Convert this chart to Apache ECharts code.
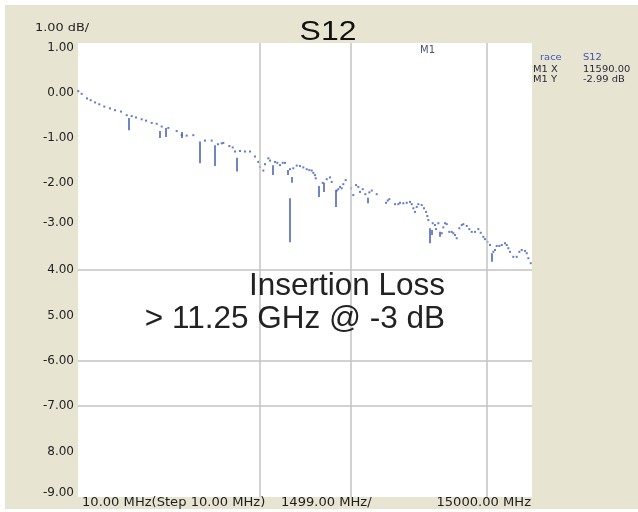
<!DOCTYPE html>
<html><head><meta charset="utf-8">
<script src="https://cdn.jsdelivr.net/npm/echarts@6/dist/echarts.min.js"></script>
<style>html,body{margin:0;padding:0;background:#fff}#c{width:638px;height:512px}</style>
</head><body><div id="c"></div>
<script>
// S12 insertion-loss trace (MHz, dB)
const freqMHz = [20,132,307,429,571,713,878,1067,1232,1430,
1618,1783,1925,2113,2255,2444,2609,2774,2992,3269,
3434,3599,3817,4203,4425,4633,4755,4808,5006,5118,
5194,5359,5524,5689,5854,5963,6020,6129,6185,6294,
6350,6515,6591,6680,6769,6845,7010,7119,7232,7340,
7450,7562,7648,7727,7780,7836,7859,8090,8222,8331,
8387,8552,8605,8661,8717,8770,8849,9024,9100,9190,
9265,9321,9411,9497,9629,9708,9873,10180,10236,10289,
10477,10586,10642,10751,10864,10973,11029,11082,11138,11194,
11247,11359,11435,11501,11544,11577,11722,11798,11831,11907,
12019,12072,12128,12184,12270,12350,12402,12458,12514,12600,
12680,12733,12845,12931,13010,13119,13228,13307,13393,13449,
13525,13614,13723,13779,13835,13921,14000,14109,14165,14218,
14274,14383,14496,14582,14661,14770,14826,14879,14958];
const lossDb = [-0.06,-0.12,-0.22,-0.26,-0.31,-0.35,-0.40,-0.44,-0.48,-0.51,
-0.59,-0.61,-0.64,-0.68,-0.71,-0.76,-0.78,-0.84,-0.87,-0.94,
-1.03,-1.04,-1.03,-1.15,-1.15,-1.23,-1.21,-1.20,-1.27,-1.30,
-1.39,-1.38,-1.39,-1.39,-1.50,-1.62,-1.73,-1.81,-1.67,-1.54,
-1.59,-1.62,-1.64,-1.69,-1.64,-1.64,-1.78,-1.76,-1.70,-1.71,
-1.74,-1.78,-1.80,-1.81,-1.86,-1.91,-1.98,-2.08,-2.00,-1.96,
-2.06,-2.25,-2.22,-2.17,-2.20,-2.11,-2.02,-2.20,-2.35,-2.13,
-2.17,-2.28,-2.22,-2.33,-2.29,-2.25,-2.33,-2.52,-2.47,-2.44,
-2.55,-2.55,-2.52,-2.53,-2.52,-2.50,-2.55,-2.64,-2.72,-2.61,
-2.55,-2.57,-2.64,-2.72,-2.81,-2.90,-2.97,-3.01,-3.10,-2.97,
-3.19,-3.06,-2.97,-2.99,-3.16,-3.16,-3.19,-3.23,-3.30,-3.08,
-3.01,-2.99,-3.03,-3.10,-3.16,-3.16,-3.10,-3.18,-3.27,-3.32,
-3.38,-3.45,-3.60,-3.56,-3.47,-3.47,-3.45,-3.41,-3.45,-3.52,
-3.60,-3.71,-3.71,-3.60,-3.56,-3.58,-3.63,-3.74,-3.85];
// resonance dips (vertical spikes)
const spikeFreq   = [1694,2718,2916,3444,4038,4534,5244,6439,6934,7010,7076,7945,8133,8513,9563,11633,11689,11963,13670];
const spikeTop    = [-0.65,-0.94,-0.87,-0.96,-1.17,-1.25,-1.53,-1.69,-1.80,-2.42,-1.95,-2.15,-2.08,-2.24,-2.41,-3.08,-3.12,-3.16,-3.63];
const spikeBottom = [-0.92,-1.09,-1.07,-1.09,-1.65,-1.71,-1.83,-1.91,-1.91,-3.39,-2.08,-2.39,-2.28,-2.61,-2.53,-3.41,-3.23,-3.27,-3.82];
// axes
const yTickValues = [1,0,-1,-2,-3,-4,-5,-6,-7,-8,-9];
const yTickLabels = ['1.00','0.00','-1.00','-2.00','-3.00','4.00','5.00','-6.00','-7.00','8.00','-9.00'];
const gridFreqMHz = [6006,9004,13501];
const gridDb = [-4,-6,-7];
const xLabels = ['10.00 MHz(Step 10.00 MHz)','1499.00 MHz/','15000.00 MHz'];
const scaleLabel = '1.00 dB/';
const titleText = 'S12';
const annotation = ['Insertion Loss','> 11.25 GHz @ -3 dB'];
const markerName = 'M1';
const markerTable = [['race','S12'],['M1 X','11590.00'],['M1 Y','-2.99 dB']];

const BLUE = '#3f5cb6';
const chart = echarts.init(document.getElementById('c'), null, {renderer:'canvas'});
const labelShift = {'1':'d5','0':'d4','-1':'d4','-2':'d4','-3':'u2','-9':'u4'};

const pts = freqMHz.map((f,i)=>[f, lossDb[i]]);
const spikeLines = spikeFreq.map((f,i)=>[{coord:[f, spikeTop[i]]},{coord:[f, spikeBottom[i]]}]);
const gridLines = gridFreqMHz.map(v=>({xAxis:v})).concat(gridDb.map(v=>({yAxis:v})));

const T = {fontFamily:'DejaVu Sans', fill:'#1e1e1e'};
chart.setOption({
  backgroundColor:'#ffffff',
  animation:false,
  grid:{left:78, top:43, width:454, height:454, show:true, backgroundColor:'#ffffff', borderWidth:0},
  xAxis:{type:'value', min:10, max:15000, axisLine:{show:false}, axisTick:{show:false}, axisLabel:{show:false}, splitLine:{show:false}},
  yAxis:{type:'value', min:-9, max:1, interval:1, axisLine:{show:false}, axisTick:{show:false}, splitLine:{show:false},
    axisLabel:{show:true, showMinLabel:true, showMaxLabel:true, margin:4, color:'#1e1e1e', fontFamily:'DejaVu Sans', fontSize:12,
      formatter:function(v){const k=String(Math.round(v)); const lbl=yTickLabels[yTickValues.indexOf(Math.round(v))]; const s=labelShift[k]||'n'; return '{'+s+'|'+lbl+'}';},
      rich:{n:{}, d5:{padding:[10,0,0,0]}, d4:{padding:[8,0,0,0]}, u2:{padding:[0,0,4,0]}, u4:{padding:[0,0,8,0]}}}},
  graphic:[
    {type:'rect', z:-10, silent:true, shape:{x:5,y:5,width:633,height:504}, style:{fill:'#e7e4d2'}},
    {type:'text', x:35, y:28, scaleX:1.17, style:Object.assign({text:scaleLabel, fontSize:11, verticalAlign:'middle', align:'left'},T)},
    {type:'text', x:328, y:32, scaleX:1.14, style:{text:titleText, fontFamily:'Liberation Sans', fontSize:28, fill:'#111', align:'center', verticalAlign:'middle'}},
    {type:'text', x:82, y:503, scaleX:1.09, style:Object.assign({text:xLabels[0], fontSize:12, verticalAlign:'middle', align:'left'},T)},
    {type:'text', x:281, y:503, scaleX:1.09, style:Object.assign({text:xLabels[1], fontSize:12, verticalAlign:'middle', align:'left'},T)},
    {type:'text', x:531, y:503, scaleX:1.09, style:Object.assign({text:xLabels[2], fontSize:12, verticalAlign:'middle', align:'right'},T)},
    {type:'text', x:445, y:286, z:50, style:{text:annotation[0], fontFamily:'Liberation Sans', fontSize:31.5, fill:'#222', align:'right', verticalAlign:'middle'}},
    {type:'text', x:445, y:319, z:50, style:{text:annotation[1], fontFamily:'Liberation Sans', fontSize:31.5, fill:'#222', align:'right', verticalAlign:'middle'}},
    {type:'text', x:420, y:50, z:50, style:{text:markerName, fontFamily:'DejaVu Sans', fontSize:10, fill:'#4a5272', align:'left', verticalAlign:'middle'}},
    {type:'text', x:540, y:58, scaleX:1.1, style:{text:markerTable[0][0], fontFamily:'DejaVu Sans', fontSize:9, fill:'#4356b0', verticalAlign:'middle'}},
    {type:'text', x:583, y:58, scaleX:1.1, style:{text:markerTable[0][1], fontFamily:'DejaVu Sans', fontSize:9, fill:'#4356b0', verticalAlign:'middle'}},
    {type:'text', x:533, y:70, scaleX:1.1, style:{text:markerTable[1][0], fontFamily:'DejaVu Sans', fontSize:9, fill:'#2a2a3a', verticalAlign:'middle'}},
    {type:'text', x:583, y:70, scaleX:1.1, style:{text:markerTable[1][1], fontFamily:'DejaVu Sans', fontSize:9, fill:'#2a2a3a', verticalAlign:'middle'}},
    {type:'text', x:533, y:80, scaleX:1.1, style:{text:markerTable[2][0], fontFamily:'DejaVu Sans', fontSize:9, fill:'#2a2a3a', verticalAlign:'middle'}},
    {type:'text', x:583, y:80, scaleX:1.1, style:{text:markerTable[2][1], fontFamily:'DejaVu Sans', fontSize:9, fill:'#2a2a3a', verticalAlign:'middle'}}
  ],
  series:[
    {type:'line', data:[], silent:true, z:1,
      markLine:{silent:true, symbol:['none','none'], label:{show:false}, animation:false,
        lineStyle:{color:'#c3c3c3', width:1.5, type:'solid'}, data:gridLines}},
    {type:'scatter', data:pts, symbol:'rect', symbolSize:2, itemStyle:{color:BLUE}, silent:true, z:3,
      markLine:{silent:true, symbol:['none','none'], label:{show:false}, animation:false,
        lineStyle:{color:BLUE, width:1.5, type:'solid'}, data:spikeLines}}
  ]
});
</script></body></html>
